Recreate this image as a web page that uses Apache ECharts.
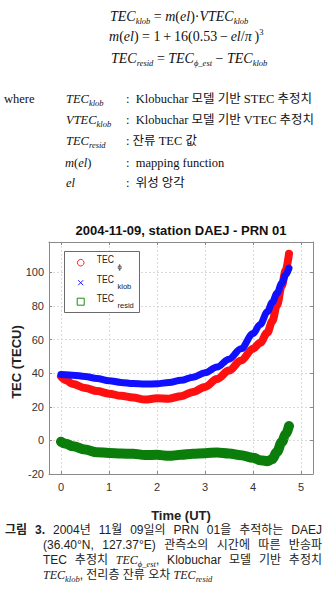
<!DOCTYPE html>
<html><head><meta charset="utf-8">
<script src="https://cdn.jsdelivr.net/npm/echarts@6/dist/echarts.min.js"></script>
<style>
html,body{margin:0;padding:0;background:#fff;width:332px;height:591px;overflow:hidden;}
#chart{position:absolute;left:0;top:0;width:332px;height:591px;}
.t{position:absolute;white-space:nowrap;color:#111;line-height:15px;}
.eq{font-family:"Liberation Serif","DejaVu Serif",serif;font-size:14px;}
.m{font-family:"Liberation Serif","DejaVu Serif",serif;font-style:italic;}
.s{font-size:8.5px;vertical-align:-3px;line-height:0;font-style:italic;font-family:"Liberation Serif",serif;}
.sp{font-size:8.5px;vertical-align:6px;line-height:0;}
.def{font-family:"Liberation Serif","Noto Sans CJK KR",serif;font-size:12.5px;}
.cap{font-family:"Liberation Sans","Noto Sans CJK KR",sans-serif;font-size:12px;color:#222;line-height:14px;}
.j{text-align:justify;text-align-last:justify;}
</style></head>
<body>
<div id="chart"></div>

<div class="t eq" style="left:110px;top:9px"><span class="m">TEC</span><span class="s">klob</span> = <span class="m">m</span>(<span class="m">el</span>)·<span class="m">VTEC</span><span class="s">klob</span></div>
<div class="t eq" style="left:109px;top:29px"><span class="m">m</span>(<span class="m">el</span>) = 1&thinsp;+&thinsp;16(0.53&thinsp;−&thinsp;<span class="m">el</span>/<span class="m">π</span>&thinsp;)<span class="sp">3</span></div>
<div class="t eq" style="left:111px;top:51px"><span class="m">TEC</span><span class="s">resid</span> = <span class="m">TEC</span><span class="s">ϕ_est</span> − <span class="m">TEC</span><span class="s">klob</span></div>

<div class="t def" style="left:4px;top:92px">where</div>
<div class="t def" style="left:66px;top:92px"><span class="m">TEC</span><span class="s">klob</span></div>
<div class="t def" style="left:126px;top:92px">:&nbsp; Klobuchar 모델 기반 STEC 추정치</div>
<div class="t def" style="left:66px;top:113px"><span class="m">VTEC</span><span class="s">klob</span></div>
<div class="t def" style="left:126px;top:113px">:&nbsp; Klobuchar 모델 기반 VTEC 추정치</div>
<div class="t def" style="left:66px;top:134px"><span class="m">TEC</span><span class="s">resid</span></div>
<div class="t def" style="left:126px;top:134px">: 잔류 TEC 값</div>
<div class="t def" style="left:65px;top:156px"><span class="m">m</span>(<span class="m">el</span>)</div>
<div class="t def" style="left:126px;top:156px">:&nbsp; mapping function</div>
<div class="t def" style="left:66px;top:176px"><span class="m">el</span></div>
<div class="t def" style="left:126px;top:176px">:&nbsp; 위성 앙각</div>

<div class="t cap j" style="left:5px;top:523px;width:317px"><b>그림 3.</b> 2004년 11월 09일의 PRN 01을 추적하는 DAEJ</div>
<div class="t cap j" style="left:43px;top:538px;width:279px">(36.40°N, 127.37°E) 관측소의 시간에 따른 반송파</div>
<div class="t cap j" style="left:43px;top:553px;width:279px">TEC 추정치 <span class="m">TEC</span><span class="s">ϕ_est</span>, Klobuchar 모델 기반 추정치</div>
<div class="t cap" style="left:43px;top:568px"><span class="m">TEC</span><span class="s">klob</span>, 전리층 잔류 오차 <span class="m">TEC</span><span class="s">resid</span></div>

<script>
// ---- data ----
const timeUT   = [0, 0.1, 0.25, 0.5, 0.75, 1, 1.25, 1.5, 1.75, 2, 2.25, 2.5, 2.75, 3, 3.25, 3.5, 3.75, 4, 4.15, 4.3, 4.4, 4.5, 4.6, 4.68, 4.75];
const tecPhi   = [38.0, 35.8, 33.5, 31.2, 29.3, 27.8, 26.5, 25.5, 24.3, 25.0, 24.8, 26.3, 28.8, 31.8, 36.5, 41.5, 47.5, 54.5, 58.0, 64.2, 70.8, 80.5, 92.0, 101.0, 111.0];
const tecKlob  = [39.2, 39.1, 38.8, 38.0, 36.8, 35.5, 34.5, 33.8, 33.5, 33.7, 34.4, 35.7, 37.6, 40.2, 43.6, 48.3, 54.5, 63.5, 69.0, 76.5, 82.0, 87.5, 93.5, 98.5, 102.5];
const tecResid = [-0.8, -2.0, -3.5, -5.5, -7.0, -7.5, -7.8, -8.0, -8.7, -8.6, -9.2, -8.6, -8.0, -7.6, -7.2, -7.8, -8.8, -10.3, -11.8, -12.4, -11.2, -6.8, -1.0, 3.5, 8.5];
const xTicks = [0, 1, 2, 3, 4, 5];
const yTicks = [-20, 0, 20, 40, 60, 80, 100];
const titleText = '2004-11-09, station DAEJ - PRN 01';
const xName = 'Time (UT)';
const yName = 'TEC (TECU)';
const legendMain = ['TEC', 'TEC', 'TEC'];
const legendSub = ['ϕ', 'klob', 'resid'];

const chart = echarts.init(document.getElementById('chart'), null, {renderer: 'svg'});
const axisColor = '#8a8a8a';
const font = 'Liberation Sans, Arial, sans-serif';
const pair = arr => timeUT.map((t, i) => [t, arr[i]]);

function xAx(pos, main) {
  return {
    type: 'value', min: -0.25, max: 5.25, position: pos,
    axisLine: {show: true, onZero: false, lineStyle: {color: axisColor, width: 1}},
    axisTick: {show: true, inside: true, length: 3, customValues: xTicks, lineStyle: {color: axisColor}},
    axisLabel: {show: main, customValues: xTicks, margin: 7, fontSize: 11, color: '#333', fontFamily: font},
    splitLine: {show: main, lineStyle: {type: [2, 2], color: '#d9d9d9', width: 1}}
  };
}
function yAx(pos, main) {
  return {
    type: 'value', min: -20, max: 118, position: pos,
    axisLine: {show: true, onZero: false, lineStyle: {color: axisColor, width: 1}},
    axisTick: {show: true, inside: true, length: 3, customValues: yTicks, lineStyle: {color: axisColor}},
    axisLabel: {show: main, customValues: yTicks, margin: 5, fontSize: 11, color: '#333', fontFamily: font},
    splitLine: {show: main, lineStyle: {type: [2, 2], color: '#d9d9d9', width: 1}}
  };
}

const lx = 80.7, rows = [262.7, 282.7, 301.7];
const graphics = [
  {type: 'text', x: 181, y: 230, style: {text: titleText, fontSize: 13, fontWeight: 'bold', fill: '#111', fontFamily: font, align: 'center', verticalAlign: 'middle'}},
  {type: 'text', x: 181, y: 515, style: {text: xName, fontSize: 13, fontWeight: 'bold', fill: '#222', fontFamily: font, align: 'center', verticalAlign: 'middle'}},
  {type: 'text', x: 16, y: 362, rotation: Math.PI / 2, style: {text: yName, fontSize: 13, fontWeight: 'bold', fill: '#222', fontFamily: font, align: 'center', verticalAlign: 'middle'}},
  {type: 'rect', shape: {x: 64.5, y: 251.5, width: 75, height: 61}, style: {fill: '#fff', stroke: '#6a6a6a', lineWidth: 1}, z: 10},
  {type: 'circle', shape: {cx: lx, cy: rows[0], r: 3.3}, style: {fill: 'none', stroke: '#ff2020', lineWidth: 1}, z: 11},
  {type: 'polyline', shape: {points: [[lx - 2.5, rows[1] - 2.5], [lx + 2.5, rows[1] + 2.5]]}, style: {stroke: '#2020ff', lineWidth: 1}, z: 11},
  {type: 'polyline', shape: {points: [[lx - 2.5, rows[1] + 2.5], [lx + 2.5, rows[1] - 2.5]]}, style: {stroke: '#2020ff', lineWidth: 1}, z: 11},
  {type: 'rect', shape: {x: lx - 3.5, y: rows[2] - 3.5, width: 7, height: 7}, style: {fill: 'none', stroke: '#1a8a1a', lineWidth: 1}, z: 11}
];
rows.forEach((ry, i) => {
  graphics.push({type: 'text', x: 96.7, y: ry - 4, scaleX: 0.82, z: 11,
    style: {text: legendMain[i], fontSize: 10.5, fill: '#222', fontFamily: font, align: 'left', verticalAlign: 'middle'}});
  graphics.push({type: 'text', x: 117.5, y: ry + 4, z: 11,
    style: {text: legendSub[i], fontSize: 7.5, fill: '#222', fontFamily: font, align: 'left', verticalAlign: 'middle'}});
});

chart.setOption({
  animation: false,
  backgroundColor: '#fff',
  grid: {left: 49, right: 19, top: 242, bottom: 117, containLabel: false, outerBoundsMode: 'none'},
  xAxis: [xAx('bottom', true), xAx('top', false)],
  yAxis: [yAx('left', true), yAx('right', false)],
  series: [
    {name: 'phi', type: 'line', data: pair(tecPhi), smooth: 0.35, smoothMonotone: 'x', showSymbol: false,
     lineStyle: {color: '#ff1010', width: 8, cap: 'round', join: 'round'}, itemStyle: {color: '#ff1010'}, z: 2},
    {name: 'klob', type: 'line', data: pair(tecKlob), smooth: 0.35, smoothMonotone: 'x', showSymbol: false,
     lineStyle: {color: '#1010ff', width: 7, cap: 'round', join: 'round'}, itemStyle: {color: '#1010ff'}, z: 3},
    {name: 'resid', type: 'line', data: pair(tecResid), smooth: 0.35, smoothMonotone: 'x', showSymbol: false,
     lineStyle: {color: '#0a7d0a', width: 10, cap: 'round', join: 'round'}, itemStyle: {color: '#0a7d0a'}, z: 4}
  ],
  graphic: graphics
});
</script>
</body></html>
